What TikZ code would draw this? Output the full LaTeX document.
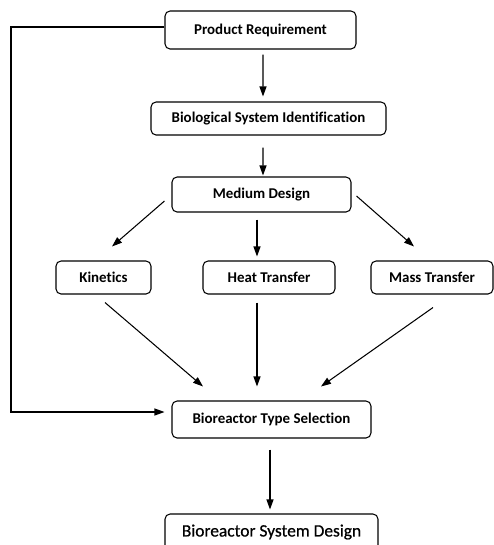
\documentclass[tikz,border=0pt]{standalone}
\usepackage{fontspec}
\setmainfont{Carlito}[Ligatures=NoCommon]
\newfontfamily\heavyfont{Carlito}[Ligatures=NoCommon,FakeBold=0.7]
\usetikzlibrary{arrows.meta,calc}
\begin{document}
\begin{tikzpicture}[x=0.02cm,y=-0.02cm,line width=0.6pt,
  box/.style={draw,rounded corners=0.1cm,inner sep=0pt,font=\fontsize{8.5}{10}\selectfont\bfseries},
  arr/.style={-{Triangle[length=2mm,width=1.4mm]}}]
\useasboundingbox (0,0) rectangle (494,545);

%%%Top chain
%Boxes
\node[box,minimum width=3.82cm,minimum height=0.76cm] (pr) at (260.5,30) {Product Requirement};
\node[box,minimum width=4.7cm,minimum height=0.66cm] (bsi) at (268.5,118.5) {Biological System Identification};
\node[box,minimum width=3.58cm,minimum height=0.7cm] (md) at (261.5,194.5) {Medium Design};
%Arrows down
\draw[arr] ($(pr.south)+(2.5,5)$) -- ($(bsi.north)+(-5.5,-5)$);
\draw[arr] ($(bsi.south)+(-5.5,12)$) -- ($(md.north)+(1.5,-1)$);

%%%Middle row
%Boxes Kinetics, Heat Transfer, Mass Transfer
\foreach \x/\w/\n/\t in {103.5/1.9/kin/Kinetics,269/2.64/ht/Heat Transfer,432/2.44/mt/Mass Transfer}
  \node[box,minimum width=\w cm,minimum height=0.66cm] (\n) at (\x,277.5) {\t};
%Arrows from Medium Design
\draw[arr] ($(md.west)+(-7,6.5)$) -- ($(kin.north)+(8.5,-14)$);
\draw[arr] ($(md.south)+(-4.5,7)$) -- ($(ht.north)+(-12,-4)$);
\draw[arr] ($(md.east)+(5,1.5)$) -- ($(mt.north)+(-18,-14)$);

%%%Bottom chain
%Boxes
\node[box,minimum width=3.98cm,minimum height=0.74cm] (bts) at (271.5,419.5) {Bioreactor Type Selection};
\node[box,minimum width=4.26cm,minimum height=0.72cm,font=\fontsize{9.9}{11}\heavyfont] (bsd) at (271.5,532) {Bioreactor System Design};
%Arrows into Bioreactor Type Selection
\foreach \n/\a/\b/\c/\d in {kin/1.5/8/-68.5/-14,ht/-12/8/-14.5/-14,mt/1/13/49.5/-14}
  \draw[arr] ($(\n.south)+(\a,\b)$) -- ($(bts.north)+(\c,\d)$);
%Feedback line from Product Requirement
\draw[arr] ($(pr.west)+(0,-3)$) -| (11,300) |- ($(bts.west)+(-7,-7.5)$);
%Last arrow
\draw[arr] ($(bts.south)+(-1.5,11)$) -- ($(bsd.north)+(-1.5,-4)$);

\end{tikzpicture}
\end{document}
